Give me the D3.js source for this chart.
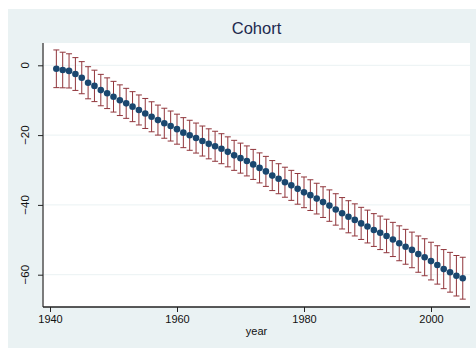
<!DOCTYPE html>
<html>
<head>
<meta charset="utf-8">
<script src="https://cdn.jsdelivr.net/npm/d3@7"></script>
<style>
  html, body { margin: 0; padding: 0; background: #ffffff; }
  svg { display: block; }
</style>
</head>
<body>
<svg id="chart" width="476" height="348"></svg>
<script>
// ---- data ----
const years = d3.range(1941, 2006);
const coef = [
  -1.0, -1.35, -1.6, -2.5, -3.55, -5.0, -5.9, -7.1, -8.0, -9.0,
  -10.0, -10.9, -11.85, -12.8, -13.8, -14.75, -15.7, -16.6, -17.4, -18.3,
  -19.3, -20.05, -20.85, -21.7, -22.5, -23.2, -23.9, -24.8, -25.8, -26.6,
  -27.4, -28.4, -29.4, -30.4, -31.6, -32.5, -33.5, -34.4, -35.4, -36.4,
  -37.2, -38.2, -39.2, -40.2, -41.3, -42.4, -43.4, -44.3, -45.3, -46.2,
  -47.2, -48.0, -48.9, -49.9, -51.0, -52.0, -52.9, -54.1, -55.0, -56.1,
  -57.2, -58.4, -59.3, -60.3, -61.0
];
const halfCI = [
  5.4, 5.1, 4.9, 4.7, 4.6, 4.6, 4.5, 4.5, 4.4, 4.4,
  4.4, 4.3, 4.3, 4.3, 4.3, 4.3, 4.3, 4.3, 4.3, 4.3,
  4.3, 4.3, 4.3, 4.3, 4.3, 4.3, 4.3, 4.3, 4.3, 4.3,
  4.3, 4.3, 4.3, 4.3, 4.3, 4.3, 4.3, 4.3, 4.4, 4.4,
  4.4, 4.4, 4.4, 4.5, 4.5, 4.5, 4.6, 4.6, 4.6, 4.7,
  4.7, 4.8, 4.8, 4.9, 5.0, 5.0, 5.1, 5.2, 5.3, 5.4,
  5.5, 5.6, 5.7, 5.8, 6.0
];
const xTicks = [1940, 1960, 1980, 2000];
const yTicks = [0, -20, -40, -60];
const title = "Cohort";
const xLabel = "year";

// ---- layout ----
const svg = d3.select("#chart");
const font = "'Liberation Sans', Arial, Helvetica, sans-serif";
const outer = {x: 8, y: 9, w: 468, h: 339};
const plot = {left: 43, right: 470, top: 43, bottom: 307};

const x = d3.scaleLinear().domain([1940, 2000]).range([50, 431]);
const y = d3.scaleLinear().domain([0, -60]).range([65.3, 274.7]);

svg.append("rect").attr("x", outer.x).attr("y", outer.y)
  .attr("width", outer.w).attr("height", outer.h).attr("fill", "#eaf2f3");
svg.append("rect").attr("x", plot.left).attr("y", plot.top)
  .attr("width", plot.right - plot.left).attr("height", plot.bottom - plot.top)
  .attr("fill", "#ffffff");

// gridlines
svg.append("g").selectAll("line").data(yTicks).join("line")
  .attr("x1", plot.left).attr("x2", plot.right)
  .attr("y1", d => y(d)).attr("y2", d => y(d))
  .attr("stroke", "#eaf2f3").attr("stroke-width", 1);

// title
svg.append("text").attr("x", (plot.left + plot.right) / 2).attr("y", 34)
  .attr("text-anchor", "middle").attr("font-family", font).attr("font-size", 16.5)
  .attr("fill", "#1e2a4f").text(title);

const data = years.map((yr, i) => ({yr, b: coef[i], lo: coef[i] - halfCI[i], hi: coef[i] + halfCI[i]}));

// error bars
const barColor = "#90353b";
const eb = svg.append("g");
eb.selectAll("line.v").data(data).join("line").attr("class", "v")
  .attr("x1", d => x(d.yr)).attr("x2", d => x(d.yr))
  .attr("y1", d => y(d.hi)).attr("y2", d => y(d.lo))
  .attr("stroke", barColor).attr("stroke-width", 1);
eb.selectAll("line.t").data(data).join("line").attr("class", "t")
  .attr("x1", d => x(d.yr) - 3).attr("x2", d => x(d.yr) + 3)
  .attr("y1", d => y(d.hi)).attr("y2", d => y(d.hi))
  .attr("stroke", barColor).attr("stroke-width", 1);
eb.selectAll("line.b").data(data).join("line").attr("class", "b")
  .attr("x1", d => x(d.yr) - 3).attr("x2", d => x(d.yr) + 3)
  .attr("y1", d => y(d.lo)).attr("y2", d => y(d.lo))
  .attr("stroke", barColor).attr("stroke-width", 1);

// points
svg.append("g").selectAll("circle").data(data).join("circle")
  .attr("cx", d => x(d.yr)).attr("cy", d => y(d.b)).attr("r", 3.3)
  .attr("fill", "#1a476f");

// y axis
const yAxis = d3.axisLeft(y).tickValues(yTicks).tickSize(5).tickPadding(3).tickFormat(d3.format("d"));
const gy = svg.append("g").attr("transform", `translate(${plot.left},0)`).call(yAxis);
gy.select(".domain").attr("d", `M0,${plot.top}V${plot.bottom}`).attr("stroke", "#6e6e6e").attr("stroke-width", 1.8);
gy.selectAll(".tick line").attr("stroke", "#222");
gy.selectAll(".tick text").remove();
svg.append("g").selectAll("text").data(yTicks).join("text")
  .attr("transform", d => `translate(25,${y(d)}) rotate(-90)`)
  .attr("dy", "0.35em")
  .attr("text-anchor", "middle")
  .attr("font-family", font).attr("font-size", 11.5).attr("fill", "#111")
  .text(d => d3.format("d")(d));

// x axis
const xAxis = d3.axisBottom(x).tickValues(xTicks).tickSize(5).tickPadding(3).tickFormat(d3.format("d"));
const gx = svg.append("g").attr("transform", `translate(0,${plot.bottom})`).call(xAxis);
gx.select(".domain").attr("d", `M${plot.left},0H${plot.right}`).attr("stroke", "#222").attr("stroke-width", 1.3);
gx.selectAll(".tick line").attr("stroke", "#222");
gx.selectAll(".tick text").attr("font-family", font).attr("font-size", 11).attr("fill", "#111");

svg.append("text").attr("x", (plot.left + plot.right) / 2).attr("y", 335)
  .attr("text-anchor", "middle").attr("font-family", font).attr("font-size", 11)
  .attr("fill", "#111").text(xLabel);
</script>
</body>
</html>
